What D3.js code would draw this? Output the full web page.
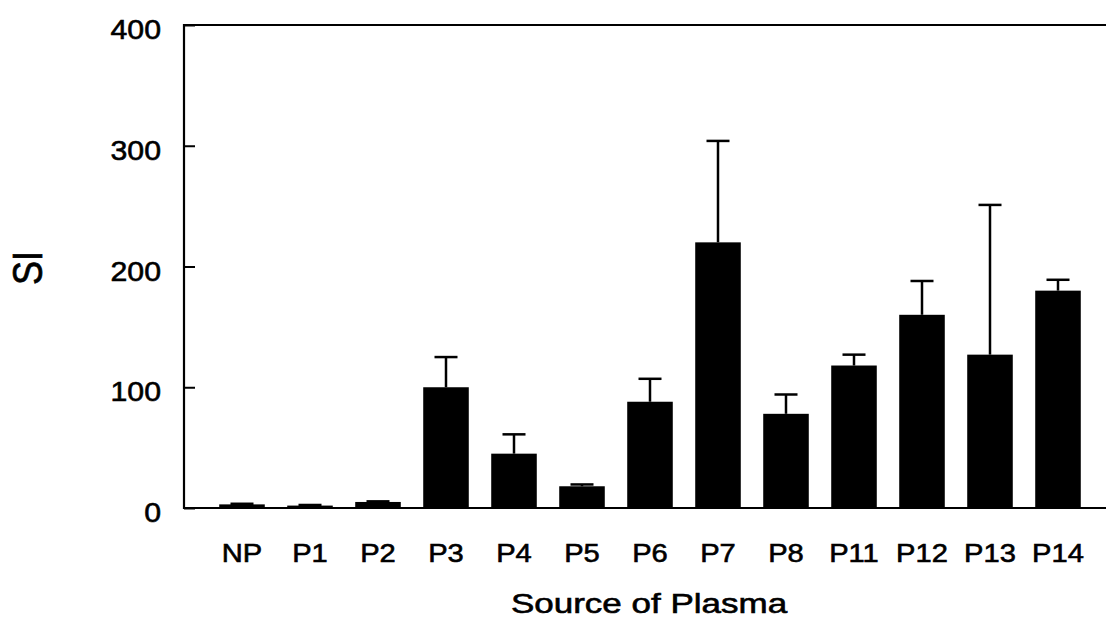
<!DOCTYPE html>
<html>
<head>
<meta charset="utf-8">
<script src="https://cdn.jsdelivr.net/npm/d3@7"></script>
<style>
  html, body { margin: 0; padding: 0; background: #fff; }
  svg { display: block; }
  text { font-family: "Liberation Sans", Arial, Helvetica, sans-serif; fill: #000; stroke: #000; stroke-width: 0.6px; }
</style>
</head>
<body>
<svg id="chart" width="1106" height="628"></svg>
<script>
const categories = ["NP", "P1", "P2", "P3", "P4", "P5", "P6", "P7", "P8", "P11", "P12", "P13", "P14"];
const meanValues = [3, 2, 5, 100, 45, 18, 88, 220, 78, 118, 160, 127, 180];
const errorValues = [0.5, 0.5, 0.5, 25, 16, 1.5, 19, 84, 16, 9, 28, 124, 9];
const yTicks = [0, 100, 200, 300, 400];
const yLabel = "SI";
const xLabel = "Source of Plasma";

const svg = d3.select("#chart");
const plotLeft = 184, plotTop = 25, plotBottom = 508, plotRight = 1106;

const x = d3.scaleBand()
  .domain(categories)
  .range([208, 1092])
  .paddingInner(0.33)
  .paddingOuter(0.165);

const y = d3.scaleLinear().domain([0, 400]).range([plotBottom, plotTop]);

const data = categories.map((c, i) => ({ c, v: meanValues[i], e: errorValues[i] }));

// bars
svg.append("g").selectAll("rect").data(data).join("rect")
  .attr("x", d => x(d.c))
  .attr("width", x.bandwidth())
  .attr("y", d => y(d.v))
  .attr("height", d => y(0) - y(d.v))
  .attr("fill", "#000");

// error bars
const eg = svg.append("g").attr("stroke", "#000").attr("stroke-width", 2.5);
eg.selectAll("line.v").data(data).join("line").attr("class", "v")
  .attr("x1", d => x(d.c) + x.bandwidth() / 2)
  .attr("x2", d => x(d.c) + x.bandwidth() / 2)
  .attr("y1", d => y(d.v))
  .attr("y2", d => y(d.v + d.e));
eg.selectAll("line.cap").data(data).join("line").attr("class", "cap")
  .attr("x1", d => x(d.c) + x.bandwidth() / 2 - 11.5)
  .attr("x2", d => x(d.c) + x.bandwidth() / 2 + 11.5)
  .attr("y1", d => y(d.v + d.e))
  .attr("y2", d => y(d.v + d.e));

// y axis (ticks inward)
const yAxis = d3.axisRight(y).tickValues(yTicks).tickSize(11).tickFormat("");
const yg = svg.append("g").attr("transform", `translate(${plotLeft},0)`).call(yAxis);
yg.select(".domain").remove();
yg.selectAll(".tick line").attr("stroke", "#000").attr("stroke-width", 2);

// y tick labels
svg.append("g").selectAll("text").data(yTicks).join("text")
  .attr("transform", d => `translate(161,${y(d) + 14}) scale(1.08,1)`)
  .attr("text-anchor", "end")
  .attr("font-size", 28)
  .text(d => d);

// frame lines
const frame = svg.append("g").attr("stroke", "#000").attr("stroke-width", 2.2).attr("fill", "none");
frame.append("path").attr("d", `M${plotRight},${plotTop}H${plotLeft}V${plotBottom}H${plotRight}`);

// x axis labels
const xAxis = d3.axisBottom(x).tickSize(0).tickPadding(0);
const xg = svg.append("g").attr("transform", `translate(0,${plotBottom})`).call(xAxis);
xg.select(".domain").remove();
xg.selectAll(".tick text")
  .attr("font-size", 26)
  .attr("font-family", "'Liberation Sans', Arial, sans-serif")
  .attr("fill", "#000")
  .attr("dy", 0)
  .attr("y", 0)
  .attr("transform", "translate(0,54) scale(1.12,1)");

// axis titles
svg.append("text")
  .attr("transform", "translate(649,613) scale(1.25,1)")
  .attr("text-anchor", "middle")
  .attr("font-size", 28)
  .text(xLabel);

svg.append("text")
  .attr("transform", "translate(42,268) rotate(-90) scale(1,1.17)")
  .attr("text-anchor", "middle")
  .attr("font-size", 36)
  .text(yLabel);
</script>
</body>
</html>
